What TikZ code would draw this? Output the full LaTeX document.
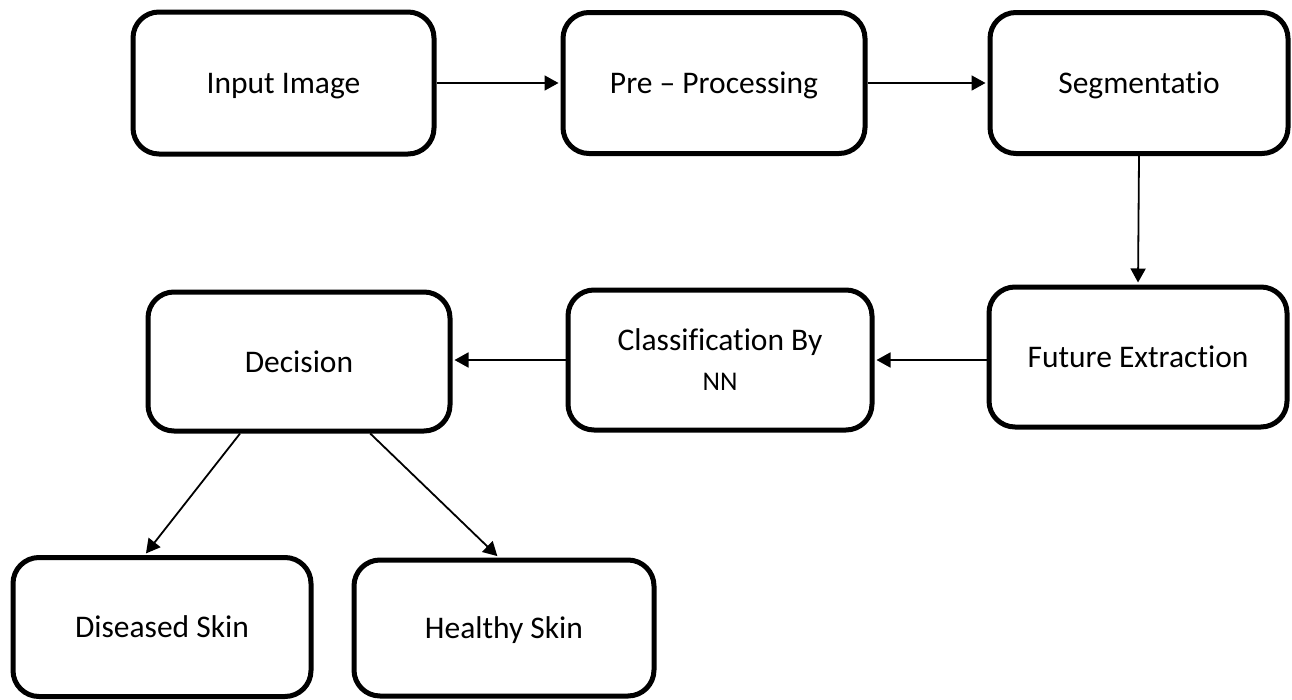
\documentclass[tikz,border=0pt]{standalone}
\usepackage{fontspec}
\setmainfont{Carlito}[Ligatures=NoCommon]
\usetikzlibrary{arrows.meta,calc}
\tikzset{
  box/.style={draw=black, line width=5pt, rounded corners=26pt, rectangle,
    inner sep=0pt, align=center, text depth=0pt,
    font=\fontsize{31.5}{43}\selectfont},
  arr/.style={draw=black, line width=1.8pt,
    -{Triangle[length=14pt,width=15pt]}, shorten >=2pt}
}
\begin{document}
\begin{tikzpicture}[x=1pt,y=-1pt]
\useasboundingbox (0,0) rectangle (1292,699);
\node[box, minimum width=301pt, minimum height=142pt] (inp) at (283.5,83) {Input Image};
\node[box, minimum width=302pt, minimum height=141pt] (pre) at (714,83) {Pre – Processing};
\node[box, minimum width=298pt, minimum height=141pt] (seg) at (1139,83) {Segmentatio};
\node[box, minimum width=298pt, minimum height=140pt] (fut) at (1138,357) {Future Extraction};
\node[box, minimum width=304pt, minimum height=140pt] (cls) at (720,360) {Classification By\\[-3pt]{\fontsize{27}{43}\selectfont NN}};
\node[box, minimum width=302pt, minimum height=139pt] (dec) at (299,361.5) {Decision};
\node[box, minimum width=298pt, minimum height=139pt] (dis) at (162,627) {Diseased Skin};
\node[box, minimum width=300pt, minimum height=136pt] (hea) at (504,628) {Healthy Skin};

\draw[arr] (inp.east) -- (pre.west);
\draw[arr] (pre.east) -- (seg.west);
\draw[arr] (seg.south) -- (fut.north);
\draw[arr] (cls.east -| fut.west) -- (cls.east);
\draw[arr] (cls.west) -- (cls.west -| dec.east);
\draw[arr] ($(dec.south west)!0.308!(dec.south east)$) -- ($(dis.north west)!0.443!(dis.north east)$);
\draw[arr] ($(dec.south west)!0.732!(dec.south east)$) -- ($(hea.north west)!0.483!(hea.north east)$);
\end{tikzpicture}
\end{document}
